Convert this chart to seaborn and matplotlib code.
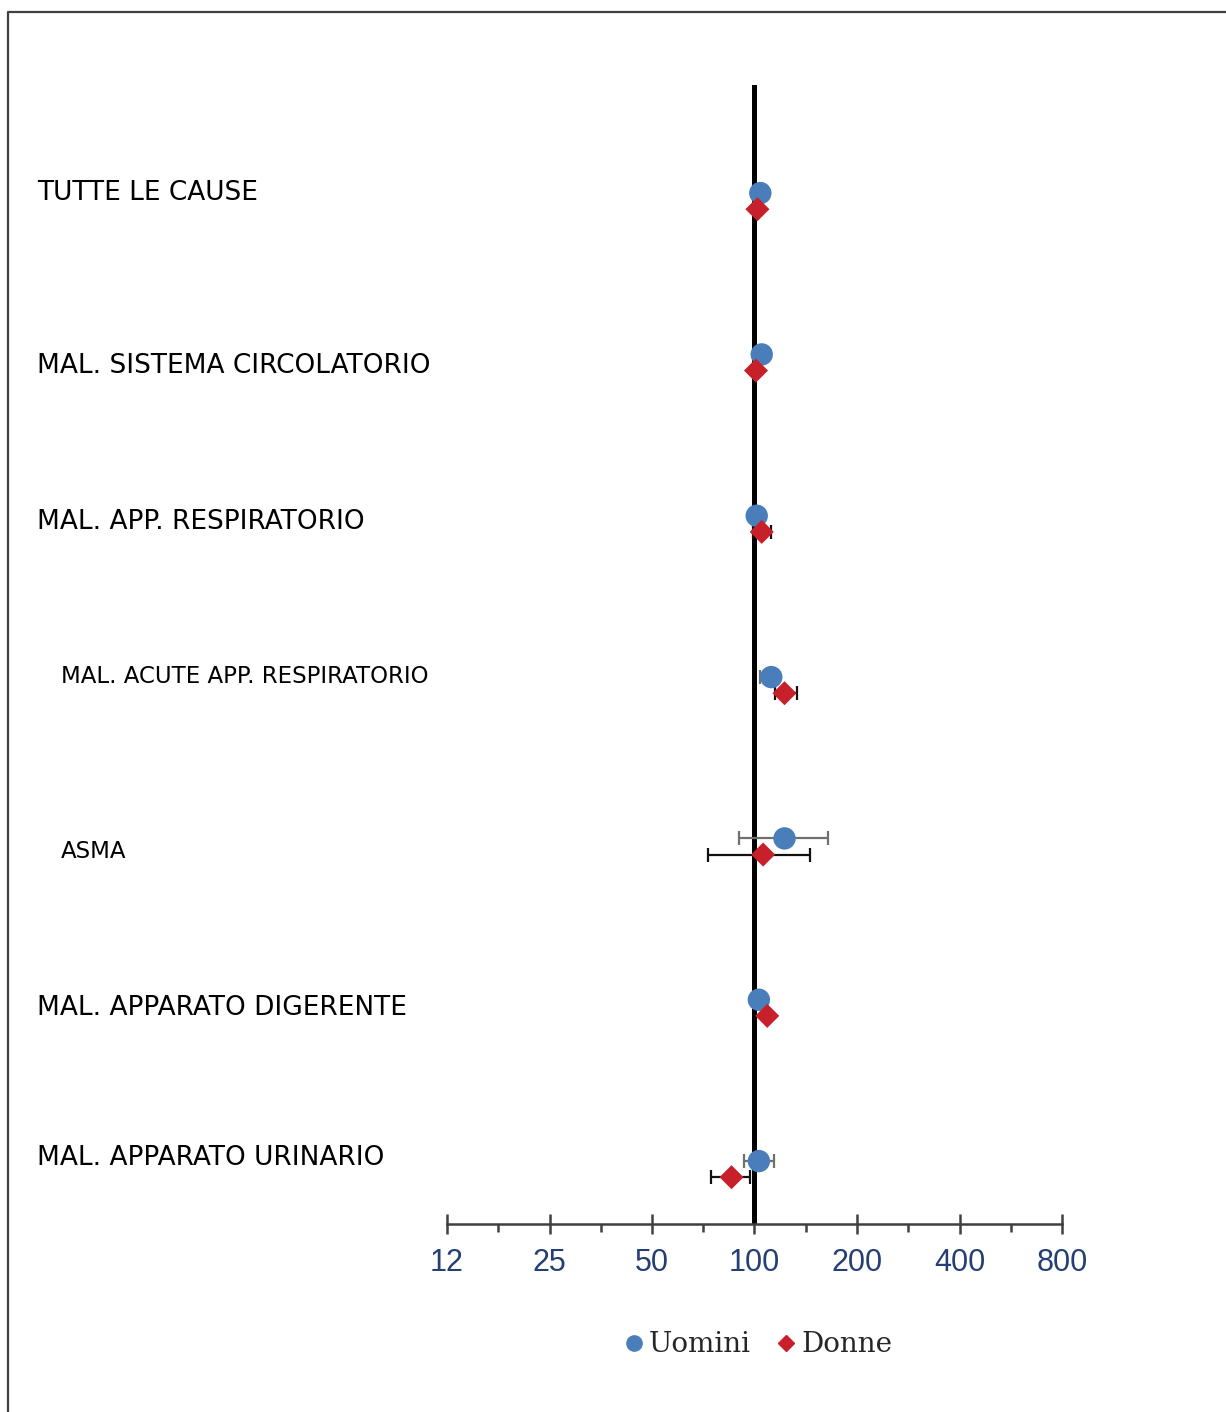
import numpy as np
import pandas as pd
import matplotlib
matplotlib.use("Agg")
import matplotlib.pyplot as plt
from matplotlib import font_manager, transforms
from matplotlib.lines import Line2D
from matplotlib.ticker import FixedLocator, NullFormatter
import seaborn as sns

# Cause di morte (dall'alto verso il basso)
cause = [
    "TUTTE LE CAUSE",
    "MAL. SISTEMA CIRCOLATORIO",
    "MAL. APP. RESPIRATORIO",
    "MAL. ACUTE APP. RESPIRATORIO",
    "ASMA",
    "MAL. APPARATO DIGERENTE",
    "MAL. APPARATO URINARIO",
]
rientro = [False, False, False, True, True, False, False]

# SMR e intervalli di confidenza (NaN = intervallo non visibile)
uomini_smr = [104, 105, 101.5, 112, 122.5, 103, 103]
uomini_lo = [np.nan, np.nan, np.nan, 104, 90, np.nan, 93]
uomini_hi = [np.nan, np.nan, np.nan, 117, 164, np.nan, 114]

donne_smr = [102, 101, 105, 122.5, 106, 109, 85.6]
donne_lo = [np.nan, np.nan, 99, 115, 73, np.nan, 74.7]
donne_hi = [np.nan, np.nan, 112, 133, 146, np.nan, 97.3]

tick_values = [12.5, 25, 50, 100, 200, 400, 800]
tick_labels = ["12", "25", "50", "100", "200", "400", "800"]

blu = "#4a7ebb"
rosso = "#c8202a"

sns.set_style("white")
plt.rcParams["font.family"] = ["DejaVu Sans"]

installati = {f.name for f in font_manager.fontManager.ttflist}
font_tick = ["Liberation Sans Narrow"] if "Liberation Sans Narrow" in installati else ["Liberation Sans"]
size_tick = 24 if font_tick[0] == "Liberation Sans Narrow" else 22

n = len(cause)
pos = np.arange(n)
df = pd.concat([
    pd.DataFrame({"causa": cause, "y": pos - 0.05, "smr": uomini_smr,
                  "lo": uomini_lo, "hi": uomini_hi, "sesso": "Uomini"}),
    pd.DataFrame({"causa": cause, "y": pos + 0.05, "smr": donne_smr,
                  "lo": donne_lo, "hi": donne_hi, "sesso": "Donne"}),
], ignore_index=True)

fig = plt.figure(figsize=(12.26, 14.12), dpi=100)
ax = fig.add_axes([447 / 1226, 1 - 1224 / 1412, (1062 - 447) / 1226, (1224 - 85) / 1412])

ax.set_xscale("log", base=2)
ax.set_xlim(12.5, 800)
ax.set_ylim(n - 1 + 0.34, -0.72)

# linea di riferimento SMR = 100
ax.axvline(100, color="black", lw=3.6, zorder=2)

# intervalli di confidenza
for sesso, col in [("Uomini", "#707070"), ("Donne", "#111111")]:
    sub = df[(df["sesso"] == sesso) & df["lo"].notna()]
    ax.errorbar(sub["smr"], sub["y"],
                xerr=[sub["smr"] - sub["lo"], sub["hi"] - sub["smr"]],
                fmt="none", ecolor=col, elinewidth=1.6, capsize=5, capthick=1.6,
                zorder=3)

sns.scatterplot(data=df[df["sesso"] == "Uomini"], x="smr", y="y", ax=ax,
                color=blu, marker="o", s=260, edgecolor="none", zorder=4,
                legend=False)
sns.scatterplot(data=df[df["sesso"] == "Donne"], x="smr", y="y", ax=ax,
                color=rosso, marker="D", s=150, edgecolor="none", zorder=5,
                legend=False)

# asse x
for s in ["left", "right", "top"]:
    ax.spines[s].set_visible(False)
ax.spines["bottom"].set_color("#404040")
ax.spines["bottom"].set_linewidth(1.8)
ax.set_yticks([])
ax.set_xlabel("")
ax.set_ylabel("")
ax.xaxis.set_major_locator(FixedLocator(tick_values))
ax.set_xticklabels(tick_labels)
minori = [v * np.sqrt(2) for v in tick_values[:-1]]
ax.xaxis.set_minor_locator(FixedLocator(minori))
ax.xaxis.set_minor_formatter(NullFormatter())
ax.tick_params(axis="x", which="major", direction="inout", length=15, width=1.8,
               color="#404040", pad=10, labelsize=size_tick, labelcolor="#243f73",
               bottom=True)
ax.tick_params(axis="x", which="minor", direction="out", length=6, width=1.8,
               color="#404040", bottom=True)
for lab in ax.get_xticklabels():
    lab.set_fontfamily(font_tick)

# etichette delle cause
spost = [-8, 4, -2, -9, 5, 0, -11]  # px, rispetto al centro del gruppo
trans = transforms.blended_transform_factory(fig.transFigure, ax.transData)
for i, (c, r) in enumerate(zip(cause, rientro)):
    xf = (61 if r else 37) / 1226
    ax.text(xf, i + spost[i] / 161.3, c, transform=trans,
            ha="left", va="center", fontsize=16.5 if r else 19,
            family=["DejaVu Sans"], color="black")

# legenda
handles = [
    Line2D([], [], marker="o", color=blu, ls="none", markersize=11),
    Line2D([], [], marker="D", color=rosso, ls="none", markersize=8),
]
fig.legend(handles, ["Uomini", "Donne"], loc="center",
           bbox_to_anchor=(756 / 1226, 1 - 1345 / 1412), ncol=2, frameon=False,
           handletextpad=0.05, columnspacing=0.75, handlelength=1.0,
           prop={"family": ["DejaVu Serif"], "size": 20})

# cornice (lati superiore e sinistro)
fig.add_artist(Line2D([8 / 1226, 8 / 1226, 1.0], [0.0, 1 - 12 / 1412, 1 - 12 / 1412],
                      transform=fig.transFigure, color="#404040", lw=1.6))

fig.savefig("out.png", dpi=100)
